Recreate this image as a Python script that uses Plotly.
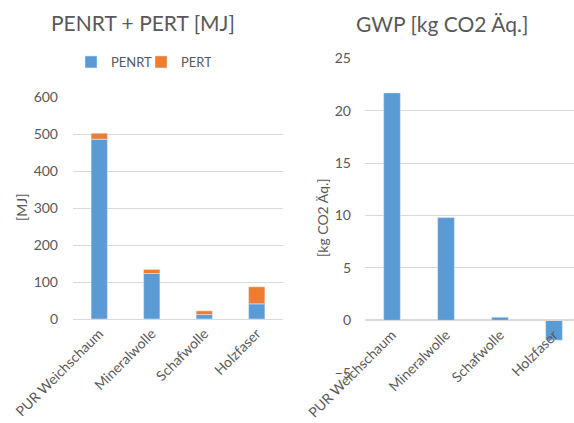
import plotly.graph_objects as go

categories = ["PUR Weichschaum", "Mineralwolle", "Schafwolle", "Holzfaser"]
penrt = [486, 123, 12, 41]
pert = [16, 11, 10, 46]
gwp = [21.7, 9.8, 0.3, -1.9]

title1 = "PENRT + PERT [MJ]"
title2 = "GWP [kg CO2 Äq.]"

W, H = 574, 423
BLUE = "#5B9BD5"
ORANGE = "#ED7D31"
TXT = "#595959"
GRID = "#D9D9D9"
FONT = "Lato"

def px(x):
    return x / W

def py(y):
    return 1 - y / H

fig = go.Figure()
fig.add_trace(go.Bar(x=categories, y=penrt, name="PENRT", marker_color=BLUE,
                     width=0.31, xaxis="x", yaxis="y"))
fig.add_trace(go.Bar(x=categories, y=pert, name="PERT", marker_color=ORANGE,
                     width=0.31, xaxis="x", yaxis="y"))
fig.add_trace(go.Bar(x=categories, y=gwp, name="GWP", marker_color=BLUE,
                     width=0.31, xaxis="x2", yaxis="y2", showlegend=False))

# right axis zero position
y2min, y2max = -5, 25
y2dom = [py(372.7), py(58.3)]
zero_pos = y2dom[0] + (0 - y2min) / (y2max - y2min) * (y2dom[1] - y2dom[0])

tickfont = dict(family=FONT, size=14, color=TXT)

fig.update_layout(
    width=W, height=H,
    margin=dict(l=0, r=0, t=0, b=0, pad=0, autoexpand=False),
    paper_bgcolor="white", plot_bgcolor="white",
    barmode="relative",
    font=dict(family=FONT, color=TXT),
    showlegend=True,
    legend=dict(orientation="h", x=px(71), y=py(62), xanchor="left", yanchor="middle",
                font=dict(family=FONT, size=13, color=TXT), itemwidth=30,
                entrywidth=25, bgcolor="rgba(0,0,0,0)", traceorder="normal"),
    xaxis=dict(domain=[px(73), px(283)], anchor="y", tickangle=-45, tickfont=tickfont,
               showgrid=False, showline=True, linecolor=GRID, ticks="",
               range=[-0.5, 3.5], automargin=False),
    yaxis=dict(domain=[py(319), py(97)], anchor="x", range=[0, 600], dtick=100,
               gridcolor=GRID, tickfont=tickfont, zeroline=False, showline=False,
               ticks="", ticklabelstandoff=14, automargin=False),
    xaxis2=dict(domain=[px(365), 1.0], anchor="free", position=zero_pos, tickangle=-45,
                tickfont=tickfont, showgrid=False, showline=True, linecolor=GRID,
                ticks="", range=[-0.5, 3.37], automargin=False),
    yaxis2=dict(domain=y2dom, anchor="x2", range=[y2min, y2max], dtick=5,
                gridcolor=GRID, tickfont=tickfont, zeroline=True, zerolinecolor=GRID,
                showline=False, ticks="", ticklabelstandoff=13, automargin=False),
    annotations=[
        dict(text=title1, x=px(143), y=py(23), xref="paper", yref="paper",
             xanchor="center", yanchor="middle",
             showarrow=False, font=dict(family=FONT, size=21, color=TXT)),
        dict(text=title2, x=px(442), y=py(24), xref="paper", yref="paper",
             xanchor="center", yanchor="middle",
             showarrow=False, font=dict(family=FONT, size=21, color=TXT)),
        dict(text="[MJ]", x=px(21), y=py(208), xref="paper", yref="paper",
             xanchor="center", yanchor="middle",
             showarrow=False, textangle=-90, font=dict(family=FONT, size=14, color=TXT)),
        dict(text="[kg CO2 Äq.]", x=px(322), y=py(218), xref="paper", yref="paper",
             xanchor="center", yanchor="middle",
             showarrow=False, textangle=-90, font=dict(family=FONT, size=14, color=TXT)),
    ],
)

fig.write_html("out.html", config={"displayModeBar": False},
               post_script="document.body.style.margin='0px';")
